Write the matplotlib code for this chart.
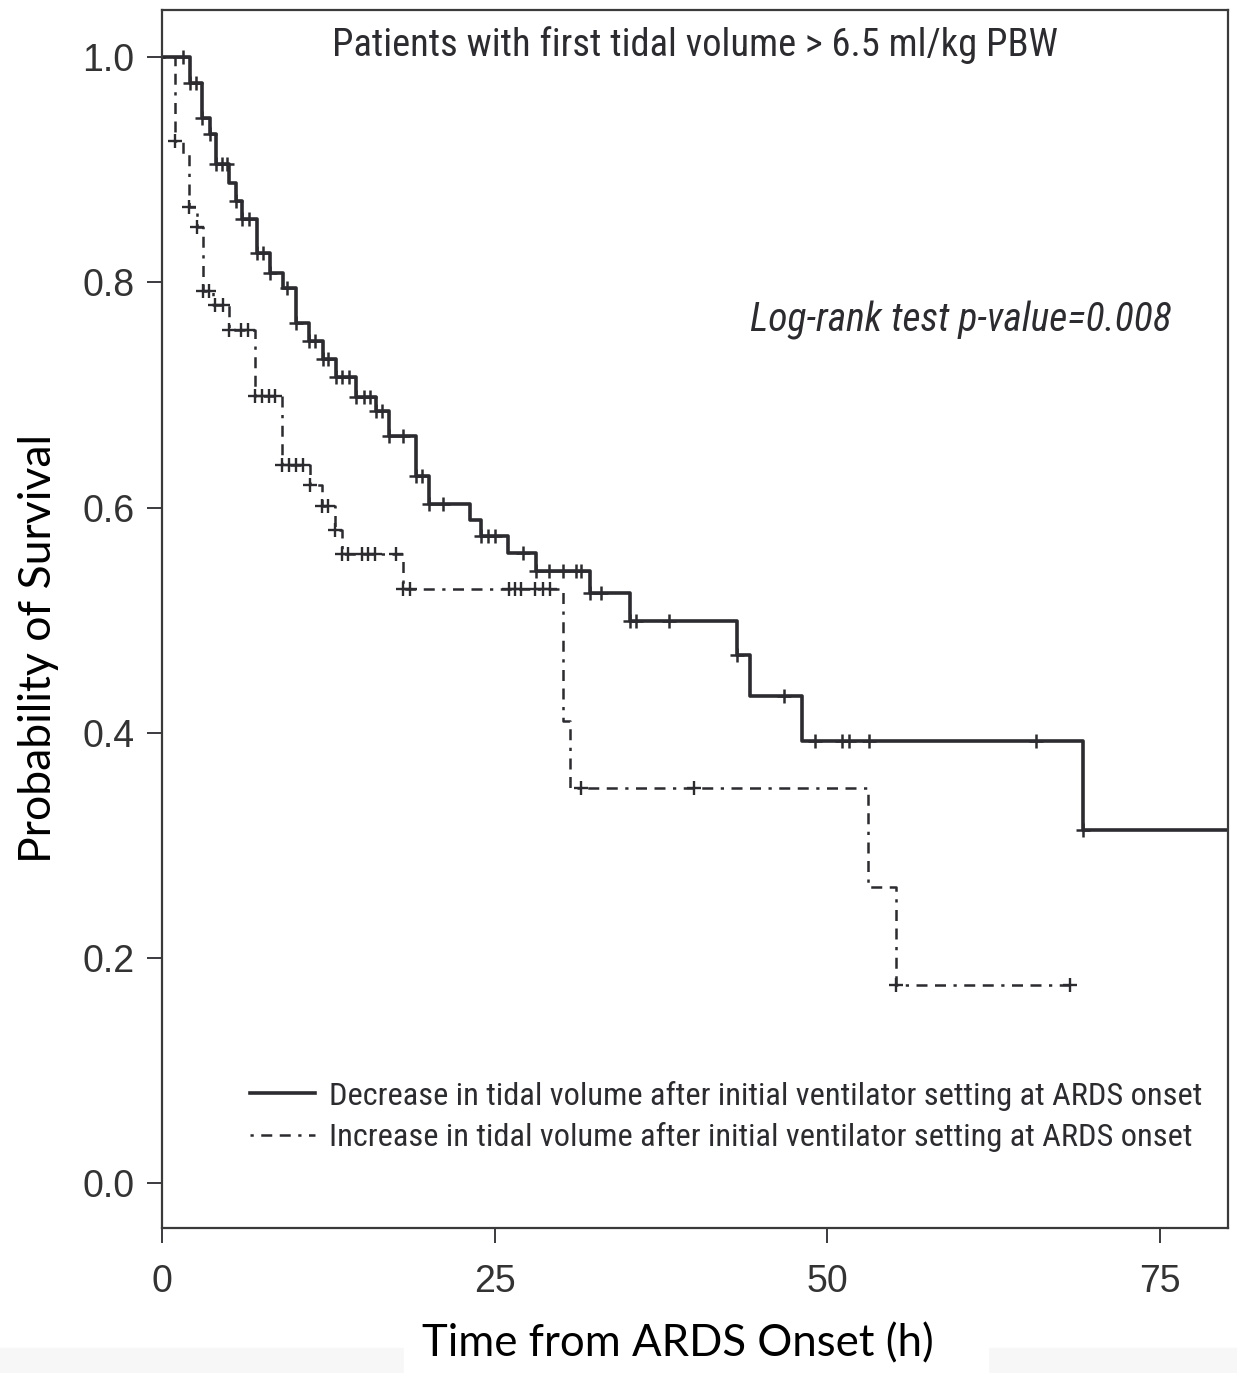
import numpy as np
import matplotlib.pyplot as plt
from matplotlib.patches import Rectangle

# Kaplan-Meier curves
# decrease in tidal volume (solid)
dec_times = [2.1, 3.03, 3.6, 4.06, 5.0, 5.56, 6.03, 7.11, 8.11, 9.1, 10.07, 11.07,
             12.1, 13.07, 14.55, 16.08, 17.08, 19.08, 20.08, 23.14, 24.0, 26.0,
             28.1, 32.16, 35.2, 43.2, 44.2, 48.1, 69.2]
dec_surv = [0.977, 0.946, 0.932, 0.905, 0.888, 0.872, 0.856, 0.826, 0.808, 0.795,
            0.764, 0.748, 0.732, 0.716, 0.698, 0.686, 0.664, 0.628, 0.603, 0.589,
            0.575, 0.560, 0.544, 0.524, 0.499, 0.469, 0.433, 0.393, 0.314]
dec_censor = [1.55, 2.1, 2.55, 3.03, 3.6, 4.06, 4.48, 4.86, 5.56, 6.03, 6.56, 7.11,
              7.56, 8.11, 9.37, 10.07, 11.07, 11.5, 12.1, 12.45, 13.07, 13.55, 14.05,
              14.6, 15.2, 15.6, 16.1, 16.5, 17.08, 18.08, 19.08, 19.5, 20.08, 21.08,
              24.0, 24.5, 25.0, 27.1, 28.1, 29.1, 30.1, 31.1, 31.5, 32.16, 33.0,
              35.2, 35.6, 38.1, 43.2, 46.7, 49.1, 51.1, 51.6, 53.1, 65.7, 69.2]
dec_end = 81

# increase in tidal volume (dash-dot)
inc_times = [0.98, 1.55, 2.05, 2.6, 3.05, 3.8, 5.0, 6.99, 9.05, 11.1, 12.0, 13.0,
             13.5, 18.08, 30.1, 30.65, 53.06, 55.15]
inc_surv = [0.926, 0.914, 0.867, 0.849, 0.792, 0.780, 0.758, 0.699, 0.638, 0.620,
            0.601, 0.580, 0.559, 0.528, 0.410, 0.351, 0.263, 0.176]
inc_censor = [0.98, 2.05, 2.6, 3.05, 3.55, 4.0, 4.56, 5.06, 5.97, 6.48, 7.0, 7.5,
              8.0, 8.5, 9.05, 9.56, 10.07, 10.57, 11.1, 12.05, 12.5, 13.0, 13.5,
              14.0, 15.0, 15.5, 16.0, 17.6, 18.1, 18.6, 26.1, 26.5, 27.0, 28.0,
              28.6, 29.15, 31.5, 40.0, 55.15, 68.2]
inc_end = 68.2

labels = ["Decrease in tidal volume after initial ventilator setting at ARDS onset",
          "Increase in tidal volume after initial ventilator setting at ARDS onset"]

x_ticks = [0, 25, 50, 75]
y_ticks = [0.0, 0.2, 0.4, 0.6, 0.8, 1.0]


def km_path(times, surv, t_end):
    t = np.concatenate([[0.0], times, [t_end]])
    s = np.concatenate([[1.0], surv, [surv[-1]]])
    return t, s


def censor_y(times, surv, cens):
    t = np.concatenate([[0.0], times])
    s = np.concatenate([[1.0], surv])
    idx = np.searchsorted(t, cens, side='right') - 1
    return s[idx]


ink = '#2b2b30'
narrow = ['Roboto Condensed', 'Liberation Sans']
dotdash = (0, (1.3, 3.0, 4.4, 3.0, 4.4, 3.0))

fig = plt.figure(figsize=(12.37, 13.73), dpi=100)

# faint grey strip at the very bottom, white behind the x label
fig.patches.append(Rectangle((0, 0), 1, 0.018, transform=fig.transFigure,
                             color='#f7f7f7', zorder=-5))
fig.patches.append(Rectangle((0.327, 0), 0.472, 0.03, transform=fig.transFigure,
                             color='white', zorder=-4))

ax = fig.add_axes([0.131, 0.1056, 0.8617, 0.8871])

t, s = km_path(dec_times, dec_surv, dec_end)
ax.step(t, s, where='post', color=ink, lw=2.6, label=labels[0])
ax.plot(dec_censor, censor_y(dec_times, dec_surv, dec_censor), ls='none',
        marker='+', ms=10, mew=1.8, color=ink)

t, s = km_path(inc_times, inc_surv, inc_end)
ax.step(t, s, where='post', color=ink, lw=1.8, ls=dotdash, label=labels[1])
ax.plot(inc_censor, censor_y(inc_times, inc_surv, inc_censor), ls='none',
        marker='+', ms=10, mew=1.7, color=ink)

ax.set_xlim(0, 80.1)
ax.set_ylim(-0.04, 1.042)
ax.set_xticks(x_ticks)
ax.set_yticks(y_ticks)
ax.set_yticklabels([f'{v:.1f}' for v in y_ticks])
ax.tick_params(direction='out', length=11, width=1.3, color=ink, labelcolor='#333333',
               labelsize=27)
ax.tick_params(axis='x', pad=15)
ax.tick_params(axis='y', pad=9)
for lab in ax.get_xticklabels() + ax.get_yticklabels():
    lab.set_family('Liberation Sans')
for sp in ax.spines.values():
    sp.set_color('#3a3a3a')
    sp.set_linewidth(1.6)

ax.text(0.5, 0.971, 'Patients with first tidal volume > 6.5 ml/kg PBW',
        transform=ax.transAxes, ha='center', va='center', fontsize=27.7,
        family=narrow, color=ink)
ax.text(0.749, 0.745, 'Log-rank test p-value=0.008', transform=ax.transAxes,
        ha='center', va='center', fontsize=28.5, style='italic', family=narrow, color=ink)

ax.legend(loc='center left', bbox_to_anchor=(0.0826, 0.0915), frameon=False,
          prop={'family': narrow, 'size': 23.3}, handlelength=2.0, handletextpad=0.45,
          labelspacing=0.36, borderpad=0, borderaxespad=0, labelcolor=ink)

fig.text(0.031, 0.528, 'Probability of Survival', rotation=90, ha='center',
         va='center', fontsize=32, family='Lato', color='black')
fig.text(0.548, 0.021, 'Time from ARDS Onset (h)', ha='center', va='center',
         fontsize=31.5, family='Lato', color='black')

plt.savefig('out.png', dpi=100)
